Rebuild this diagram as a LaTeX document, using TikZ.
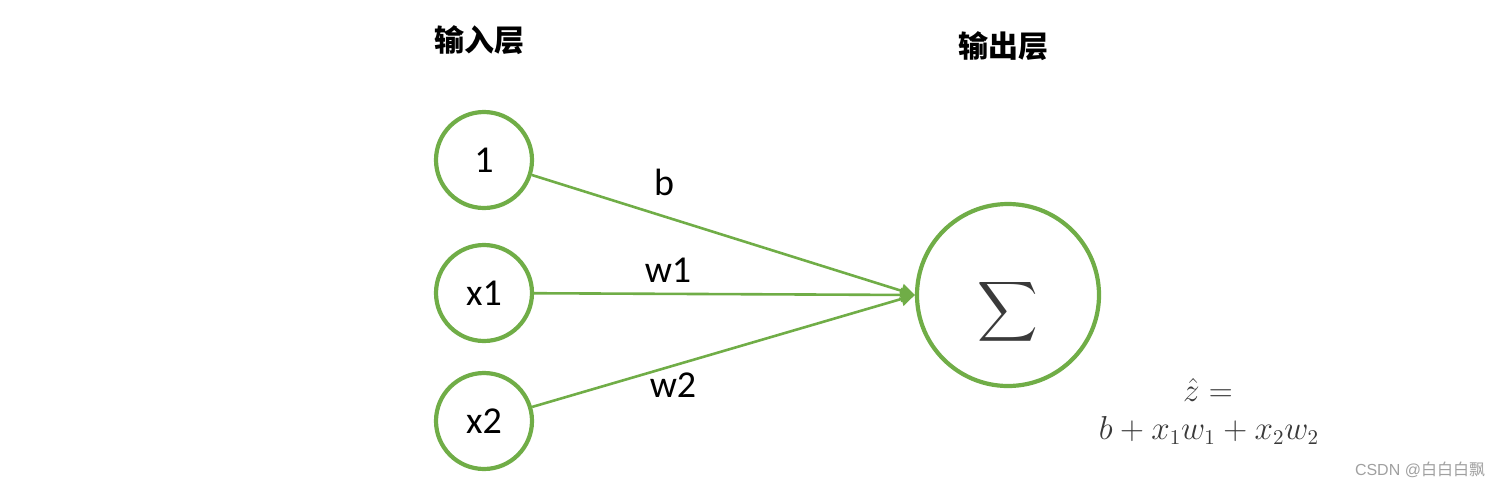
\documentclass[tikz,border=0pt]{standalone}
\usepackage{fontspec}
\setmainfont{Carlito}
\newfontfamily\cjk{Noto Sans CJK SC}
\newfontfamily\wmfont{Liberation Sans}
\usetikzlibrary{arrows.meta}
\definecolor{lgreen}{HTML}{70AD47}
\definecolor{mathgray}{HTML}{3A3A3A}
\definecolor{wmgray}{HTML}{A0A0A0}
\tikzset{
  inneuron/.style={circle, draw=lgreen, line width=2.1pt, minimum size=48pt, inner sep=0pt, font=\fontsize{19}{22}\selectfont},
  outneuron/.style={circle, draw=lgreen, line width=2.1pt, minimum size=91pt, inner sep=0pt},
  conn/.style={draw=lgreen, line width=1.3pt, -{Triangle[length=7pt,width=7pt]}},
  wlabel/.style={font=\fontsize{19}{22}\selectfont, inner sep=0pt},
  header/.style={font=\cjk\bfseries\fontsize{15}{17}\selectfont, inner sep=0pt},
  formula/.style={text=mathgray, inner sep=0pt, font=\fontsize{16}{19}\selectfont}
}
\begin{document}
\begin{tikzpicture}[x=0.5pt,y=-0.5pt]
\useasboundingbox (0,0) rectangle (1504,488);
\node[header] (hin) at (479,40) {输入层};
\node[header] (hout) at (1003,46) {输出层};
\node[inneuron] (n1) at (484,160) {1};
\node[inneuron] (nx1) at (484,293) {x1};
\node[inneuron] (nx2) at (484,421) {x2};
\node[outneuron] (out) at (1008,295) {};
\node[text=mathgray, inner sep=0pt] (sig) at (1008,312) {\scalebox{2.1}{$\displaystyle\sum$}};
\draw[conn] (n1) -- (out.west);
\draw[conn] (nx1) -- (out.west);
\draw[conn] (nx2) -- (out.west);
\node[wlabel] (lb) at (664,182) {b};
\node[wlabel] (lw1) at (668,270) {w1};
\node[wlabel] (lw2) at (673,385) {w2};
\node[formula] (f1) at (1208,390) {\scalebox{0.96}{$\hat{z}=$}};
\node[formula] (f2) at (1209,430) {\scalebox{0.96}{$b+x_1w_1+x_2w_2$}};
\node[text=wmgray, inner sep=0pt, font=\fontsize{8}{10}\selectfont] (wm) at (1420,470) {\wmfont CSDN @\cjk 白白白飘};
\end{tikzpicture}
\end{document}
